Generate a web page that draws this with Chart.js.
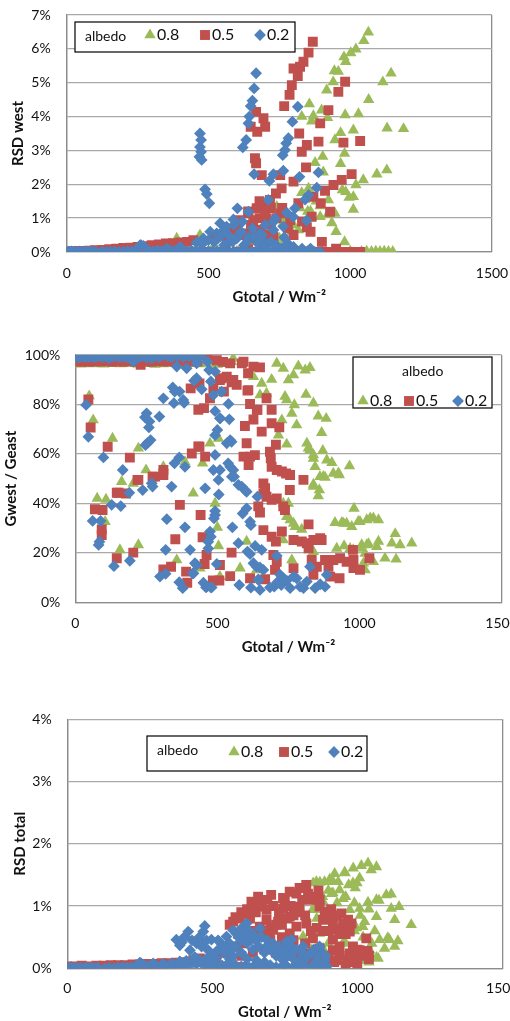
<!DOCTYPE html>
<html><head><meta charset="utf-8">
<script src="https://cdn.jsdelivr.net/npm/chart.js@4/dist/chart.umd.min.js"></script>
<style>
html,body{margin:0;padding:0;background:#fff;width:510px;height:1021px;overflow:hidden;}
.pane{position:absolute;left:0;}
canvas{display:block;}
</style></head><body>
<div class="pane" style="top:0px"><canvas id="c1" width="510" height="310"></canvas></div>
<div class="pane" style="top:330px"><canvas id="c2" width="540" height="330"></canvas></div>
<div class="pane" style="top:700px"><canvas id="c3" width="540" height="321"></canvas></div>
<script>
// ---------- labels ----------
const legendTitle = 'albedo';
const seriesLabels = ['0.8', '0.5', '0.2'];
const xTitle = 'Gtotal / Wm\u207B\u00B2';
const yTitles = ['RSD west', 'Gwest / Geast', 'RSD total'];
const xTickValues = [0, 500, 1000, 1500];

// ---------- panel 1: RSD west (%) vs Gtotal ----------
const west08 = [[0,0],[30,0],[60,0],[100,0],[150,0],[200,0],[250,0],[300,0],[350,0.02],[400,0.03],[450,0.02],[500,0.03],[550,0.02],[600,0.02],[650,0.03],[700,0.02],[750,0.02],[800,0.03],[850,0.02],[900,0.02],[950,0.02],[1000,0.02],[1040,0.01],[1058,0.02],[1075,0.01],[1090,0.02],[1105,0.01],[1120,0.02],[1135,0.01],[1150,0.01],
[388,0.4],[411,0.15],[470,0.5],[520,0.2],[560,0.3],[588,0.55],[640,0.3],[700,0.2],[758,0.2],[750,0.4],[800,0.8],[850,1.2],[880,1.5],[920,1.1],[950,0.6],[980,0.3],[652,0.6],[692,0.45],[763,0.85],
[1064,6.49],[1048,6.24],[1020,5.99],[1002,5.88],[978,5.76],[984,5.62],[944,5.35],[958,5.33],[1144,5.28],[1115,5.02],[940,5.02],[917,4.78],[1065,4.5],[856,4.37],[829,4.0],[870,4.02],[899,4.19],[864,3.86],[920,3.97],[982,4.05],[1029,4.08],[1011,3.6],[1130,3.66],[1188,3.64],[966,3.52],[946,3.31],[980,2.91],[903,2.82],[876,2.64],[966,2.61],[905,2.36],[1129,2.42],[1094,2.3],[1046,2.13],[1020,1.98],[972,1.83],[984,1.78],[996,1.61],[1011,1.63],[829,1.75],[853,1.88],[923,1.54],[894,1.36],[1011,1.26],[946,1.14],[935,0.86],[817,0.65],[794,0.6],[764,0.94],[741,1.34],[894,1.04],[823,1.3],[840,1.55],[860,1.2]];
const west05 = [[0,0],[20,0.02],[40,0.03],[60,0.03],[80,0.04],[100,0.05],[125,0.06],[150,0.08],[175,0.1],[200,0.12],[225,0.13],[250,0.15],[275,0.17],[300,0.2],[325,0.22],[350,0.25],[375,0.26],[400,0.28],[425,0.3],[447,0.35],
[500,0],[550,0],[600,0],[650,0],[700,0],[750,0],[800,0],[850,0],[880,0],[900,0],[920,0],[940,0],[960,0],[980,0],[1000,0],[1020,0],[1035,0],[560,0.05],[640,0.08],
[868,6.21],[853,5.89],[835,5.62],[823,5.47],[800,5.42],[815,5.2],[794,4.93],[786,4.64],[767,4.31],[982,5.03],[958,4.73],[923,4.19],[894,3.8],[668,4.14],[649,3.7],[694,3.95],[700,3.7],[672,3.55],[820,3.5],[888,3.26],[976,3.23],[1035,3.28],[847,3.16],[829,2.96],[664,2.77],[668,2.62],[844,2.5],[688,2.27],[753,2.27],[800,2.08],[1005,2.3],[970,2.13],[941,1.98],[911,1.81],[870,1.63],[896,1.44],[758,1.88],[738,1.73],[717,1.54],[694,1.44],[670,1.29],[641,1.14],[611,0.94],[658,0.94],[705,0.99],[753,1.14],[817,1.44],[864,1.04],[847,0.73],[929,1.19],[788,0.94],[682,0.65],[729,0.45],[588,0.65],[635,0.55],[564,0.35],
[520,0.4],[560,0.6],[600,0.7],[620,0.5],[650,0.8],[680,1.0],[700,1.2],[720,0.8],[740,1.0],[760,1.3],[780,0.7],[800,0.5],[830,0.9],[860,0.6],[900,0.3],[950,0.1],[640,1.2],[680,1.5],[720,1.3],[700,0.5],[660,0.4]];
const west02 = [[0,0],[5,0.01],[10,0],[16,0.02],[22,0],[30,0.01],[38,0],[46,0.02],[55,0],[64,0.01],[73,0],[82,0.02],[92,0],[102,0.01],[125,0.02],[140,0],[155,0.01],[170,0.02],[185,0],[200,0.01],[215,0.03],[230,0.02],[245,0.05],[255,0.15],[262,0.2],[270,0.18],[278,0.1],[290,0.03],[305,0.02],[320,0.05],[335,0.03],[350,0.02],[365,0.04],[380,0.03],[395,0.06],[410,0.03],[425,0.02],[440,0.04],[455,0.02],[470,0.03],[485,0.01],[500,0.02],[515,0.01],[530,0.02],[545,0.01],[560,0.02],[575,0],[590,0.01],[605,0],[620,0.01],[635,0],[650,0.01],[665,0],[680,0.01],[695,0],[710,0.01],[725,0],[740,0.01],[755,0],[770,0.01],[785,0],[800,0.01],[815,0],[830,0.01],[845,0],[860,0.01],[875,0],[893,0],
[668,5.28],[661,4.83],[655,4.47],[649,4.31],[644,4.0],[641,3.8],[633,3.31],[621,3.09],[470,3.5],[474,3.31],[470,3.1],[474,2.96],[468,2.81],[476,2.72],[488,1.85],[494,1.71],[503,1.44],[815,4.29],[796,3.85],[782,3.36],[774,3.21],[770,3.01],[762,2.86],[764,2.4],[729,2.3],[715,2.1],[821,2.22],[888,2.35],[882,1.9],[853,1.68],[841,1.55],[711,1.54],[661,2.3],[641,1.19],[602,1.29],[805,1.29],[776,1.16],[735,0.99],[729,0.65],[764,0.75],[799,1.04],[846,0.93],[767,0.43],[694,0.33],[682,0.55],[641,0.43],[611,0.55],[588,0.96],[564,0.75],[541,0.85],[529,0.55],[506,0.6],[482,0.4],[576,0.33],[458,0.28],[400,0.15],[353,0.1],[259,0.2],
[480,0.25],[500,0.35],[520,0.3],[540,0.45],[555,0.2],[570,0.5],[585,0.3],[600,0.4],[615,0.6],[625,0.2],[640,0.35],[660,0.45],[675,0.25],[690,0.5],[700,0.15],[720,0.3],[740,0.2],[760,0.1],[780,0.25],[800,0.15],[830,0.1],[860,0.1],[590,0.8],[620,0.9],[655,0.7],[700,0.8],[730,0.9],[555,0.65]];

// ---------- panel 2: Gwest / Geast (%) vs Gtotal ----------
const ratio08 = [[5,96.5],[20,96.3],[40,96.6],[60,96.4],[80,96.5],[100,96.3],[130,96.5],[160,96.4],[190,96.6],[220,96.3],[250,96.5],[280,96.2],[310,96.4],[340,96.6],[370,96.3],[400,96.5],[420,99],[440,96.4],[470,96.6],[500,96.2],[530,96.5],[556,98.6],[550,97.3],
[49,83.4],[63,73.7],[131,66.3],[222,62.3],[249,53.5],[310,54.8],[163,48.8],[204,48.1],[77,42],[108,41.6],[105,32.6],[157,21.2],[222,23.2],[415,44.1],[448,56.2],[474,64.3],[504,66.3],[492,40],[500,30.3],[504,22.8],[357,17.1],[386,56.8],[709,96.6],[732,94.6],[785,95.5],[809,93.9],[826,94.9],[768,91.9],[750,89.9],[691,90.1],[656,88.5],[673,84.5],[650,83.8],[627,91.2],[744,81.8],[771,79.8],[812,84],[838,80.5],[855,75.3],[883,74.3],[779,71.7],[867,68.6],[815,64.3],[826,61.6],[871,61.3],[838,58.2],[885,57.5],[903,56.5],[965,55.1],[908,52.1],[929,51.5],[873,50.8],[844,54.8],[838,47.7],[859,45.4],[855,43],[744,63.9],[715,67.6],[727,73.7],[732,40],[744,34.6],[774,30.6],[797,29.5],[914,32.2],[944,31.9],[973,30.6],[1002,32.6],[1026,33.3],[1049,34],[1067,33.3],[981,38],[920,21.8],[946,22.8],[978,21.2],[1002,21.8],[1026,23.2],[1061,22.5],[1067,24.6],[1126,27.7],[1114,23.9],[1143,23.2],[1184,23.9],[1090,17.8],[1129,17.4],[1049,16.4],[1014,15.8],[732,25.2],[762,17.1],[838,20.5],[580,13.8],[603,24.6],[439,13.8],[509,10.4],[638,13.1],[1020,13.1],
[738,83.2],[762,76.4],[820,62.3],[838,59.6],[861,50.8],[879,50.5],[926,52.2],[838,46.8],[750,40],[756,33.3],[938,32.2],[955,31.9],[996,32.6],[1038,34],[967,21.7],[1008,23.2],[1032,23.6],[768,31.9],[832,15.8],[1020,19.8]];
const ratio05 = [[5,97.5],[20,97.3],[35,97.6],[50,97.2],[70,97.5],[90,97.4],[110,97.6],[130,97.3],[150,97.5],[170,97.2],[190,97.6],[210,97.3],[230,96],[250,97.5],[270,97.2],[290,97.6],[310,97.4],[330,97.5],[350,97.2],[370,97.6],[390,97.3],[410,97.5],[430,97.4],[465,99.9],[498,97.9],[520,97.2],[545,96.6],[592,97.3],
[46,82],[54,70.7],[114,62.9],[192,58.5],[219,49.5],[272,50.8],[310,53.5],[310,51.5],[146,44.3],[178,44],[69,37.6],[96,37.3],[93,29.5],[93,27.2],[146,17.8],[204,20.1],[352,25.5],[368,39.4],[410,60.2],[437,62.9],[457,58.9],[441,35.3],[310,13.3],[337,14.4],[390,12.4],[394,7.9],[448,26.3],[462,19.1],[455,15.5],[484,8.8],[507,8.8],[545,10.6],[550,20.1],[406,86.5],[437,88.5],[453,78.5],[474,82.5],[486,86.5],[509,89.9],[523,85.2],[533,91.2],[556,89.9],[568,87.9],[608,92.6],[627,95.3],[650,95],[606,85.6],[615,80.2],[641,77.8],[597,71.3],[627,73.9],[656,69],[673,82.5],[691,77.8],[691,72.4],[718,70.8],[603,64.3],[592,58.9],[610,55.5],[615,58.9],[632,59.5],[685,60.9],[706,63.7],[688,58.2],[691,54.8],[709,53.5],[727,52.9],[742,52.1],[756,51.5],[803,49.5],[755,45.4],[662,48.1],[668,46.1],[662,44],[673,42.7],[691,41.4],[709,42],[732,38.8],[738,37.3],[644,38.8],[650,36.3],[662,29.2],[691,26.5],[706,24.6],[727,28.6],[768,25.2],[797,24.6],[815,23.9],[821,21.8],[821,31.5],[838,25.2],[862,25.9],[867,25.2],[832,17.1],[850,14.4],[879,17.1],[891,14.4],[908,17.1],[932,17.8],[955,16.4],[977,21.2],[979,17.1],[979,13.8],[1002,13.1],[1035,17.8],[930,9.7],[897,10.4],[838,11.1],[768,13.8],[709,16.4],[703,13.1],[668,9.3],[615,9.7],[509,15.1],[697,19.1],
[433,77.8],[515,90.6],[550,89],[586,96.6],[609,85.8],[639,77.8],[433,63],[281,50.8],[222,49.5],[152,44.3]];
const ratio02 = [[3,99.2],[8,99.6],[14,99],[20,99.4],[27,99.7],[34,99.1],[42,99.5],[50,99.2],[58,99.6],[67,99],[76,99.4],[85,99.7],[95,99.1],[105,99.5],[118,98.6],[130,99.3],[142,99.6],[155,99],[168,99.4],[180,99.1],[192,99.7],[204,97.3],[215,99.5],[228,99.2],[240,99.6],[252,98.8],[265,99.3],[269,98.6],[280,99.6],[295,99.1],[310,100],[325,99.4],[340,99],[360,99.5],[380,99.2],[400,99.4],[420,99.1],[440,99.3],
[38,79.8],[46,66.9],[99,58.6],[167,53.5],[160,38.9],[128,39.4],[190,44.3],[61,32.9],[89,32.9],[85,24.5],[82,23.2],[136,14.6],[192,16.8],[237,45.4],[269,48.1],[272,46.8],[251,76.4],[245,74.8],[261,73.1],[259,70.7],[296,75.1],[247,63.6],[255,64.5],[265,65.6],[310,82.5],[343,86.9],[350,85.2],[347,80.5],[367,85.2],[380,81.8],[383,80.7],[322,33.6],[339,46.8],[349,56.2],[366,58.6],[386,54.8],[386,30.3],[404,21.2],[318,21.2],[298,10.4],[318,11.5],[366,8.1],[378,5.7],[413,11.7],[427,15.1],[457,46.1],[445,86.1],[427,90.6],[418,89.6],[357,95.3],[392,94.6],[427,96.6],[465,97.3],[471,93.9],[492,93.3],[477,89.3],[486,83.8],[492,77.3],[509,74.4],[492,67.6],[500,69.7],[539,80.2],[542,74],[545,65.6],[550,64.9],[533,64.3],[492,59.6],[486,53.5],[504,49.5],[509,53.5],[505,43.6],[492,36.9],[492,35.3],[488,33.9],[538,56.2],[545,54.8],[556,53.5],[559,50.8],[574,47.5],[586,46.8],[597,45.4],[603,44.7],[589,35.9],[603,38],[615,32.6],[618,31.2],[641,42.7],[553,30.3],[474,28.6],[477,26.5],[468,24.5],[468,21.8],[498,15.5],[451,7.9],[460,6],[477,6],[574,23.9],[577,7],[606,20.5],[615,19.5],[618,5.9],[627,15.8],[638,14.4],[650,14.1],[662,13.1],[656,21.2],[644,9.3],[685,6],[700,6.3],[709,18.8],[721,11.1],[732,9.7],[744,8.8],[756,5.7],[768,10.4],[779,9.7],[791,6.3],[803,5.7],[815,8.4],[826,14.4],[844,5.7],[862,7.3],[885,11.1],[879,6.3],
[421,15.8],[416,11.7],[463,6.3],[480,6],[633,22.8],[645,9],[650,5],[710,8],[725,7],[510,74.4],[515,85.2],[551,50.8]];

// ---------- panel 3: RSD total (%) vs Gtotal ----------
const total08 = [[1037,1.69],[1014,1.65],[1066,1.63],[986,1.61],[1048,1.58],[958,1.53],[922,1.52],[905,1.43],[917,1.39],[934,1.39],[871,1.38],[970,1.34],[999,1.37],[848,1.37],[993,1.29],[916,1.21],[1100,1.18],[1117,1.19],[951,1.12],[1075,1.09],[882,1.07],[1037,1.06],[1117,0.96],[1144,0.99],[974,0.94],[1008,0.96],[848,0.96],[899,0.91],[1066,0.83],[1129,0.78],[1186,0.7],[1025,0.75],[1019,0.67],[1077,0.46],[1111,0.46],[1140,0.44],[1129,0.35],[1094,0.32],[1043,0.29],[1072,0.16],[1008,0.13],[1031,0.13],[951,0.41],[870,0.56],[882,0.32],[813,0.51],[956,1.54],[887,1.39],[859,1.39],[911,1.2],[876,1.07],[853,0.94],[939,1.26],[985,1.37],[1008,1.45],[1066,1.1],[997,0.65],[1105,0.49],[1066,0.17],[1019,0.13],
[860,0.8],[880,1.15],[900,1.25],[930,1.05],[960,1.15],[990,1.05],[1010,0.85],[1040,0.95],[1060,0.6],[1050,0.4],[1020,0.5],[990,0.6],[960,0.4],[930,0.3],[900,0.4],[870,0.2],[840,0.3],[810,0.2],[760,0.02],[720,0.01],[800,0.02],[840,0.02],[1000,0.15],[1040,0.1]];
const total05 = [[0,0.03],[25,0.03],[50,0.04],[75,0.03],[100,0.04],[125,0.04],[150,0.05],[175,0.05],[200,0.05],[225,0.06],[250,0.06],[275,0.07],[300,0.07],[325,0.08],[350,0.08],[375,0.09],[400,0.1],[434,0.13],[457,0.16],[514,0.21],[480,0.05],[520,0.05],[560,0.02],[600,0.02],[640,0.01],[680,0.01],
[824,1.34],[801,1.29],[767,1.23],[866,1.25],[842,1.1],[744,1.13],[703,1.18],[658,1.15],[635,1.07],[664,0.99],[687,0.94],[744,0.96],[801,0.99],[767,0.83],[617,0.88],[595,0.8],[572,0.75],[560,0.7],[727,0.75],[824,0.72],[882,0.78],[916,0.83],[945,0.88],[968,0.78],[980,0.72],[974,0.59],[928,0.62],[847,0.48],[1031,0.48],[1008,0.29],[974,0.24],[968,0.13],[916,0.29],[893,0.16],[928,0.13],[767,0.56],[698,0.51],[643,0.48],[744,0.35],[870,0.32],[836,0.24],[664,0.67],[710,0.62],[790,0.67],[687,0.78],[870,0.99],[888,0.91],[916,0.72],[951,0.72],[916,0.46],[939,0.35],[985,0.35],
[590,0.55],[610,0.62],[630,0.8],[650,0.9],[670,1.05],[690,1.1],[710,1.0],[730,0.9],[750,1.1],[770,1.0],[790,1.2],[810,1.1],[830,1.2],[850,1.15],[870,1.1],[890,0.9],[910,0.95],[930,0.85],[950,0.65],[960,0.55],[940,0.55],[900,0.6],[880,0.6],[860,0.65],[840,0.6],[820,0.85],[800,0.9],[780,0.85],[760,0.8],[740,0.7],[720,0.7],[700,0.65],[680,0.6],[660,0.55],[640,0.6],[620,0.45],[600,0.4],[580,0.35],[560,0.3],[540,0.25],[700,0.45],[740,0.5],[780,0.45],[820,0.4],[860,0.3],[900,0.2],[940,0.2],[980,0.1],[990,0.2],[1010,0.2],[1040,0.2],[1000,0.05],[960,0.05],[920,0.1],[880,0.1],[840,0.1],[800,0.15],[760,0.2],[720,0.25],[680,0.3],[640,0.25],[600,0.2],[1000,0.3],[1020,0.25],[1035,0.28],[1040,0.15],
[580,0.82],[600,0.9],[620,0.95],[645,1.0]];
const total02 = [[0,0],[8,0.01],[16,0],[25,0.01],[35,0],[45,0.01],[55,0],[65,0.01],[75,0],[85,0.01],[95,0],[105,0.01],[130,0],[145,0.01],[160,0],[175,0.01],[190,0.02],[205,0.01],[220,0.02],[235,0.03],[245,0.06],[255,0.08],[265,0.05],[280,0.03],[295,0.04],[310,0.03],[325,0.05],[340,0.04],[355,0.05],[370,0.06],[385,0.05],[400,0.07],[415,0.06],[430,0.08],[445,0.07],[460,0.09],[475,0.06],[490,0.08],[505,0.05],[520,0.07],[535,0.04],[550,0.06],[565,0.03],[580,0.05],[600,0.03],[620,0.04],[640,0.02],[660,0.03],[680,0.02],[700,0.03],[720,0.02],[740,0.03],[760,0.02],[780,0.03],[800,0.02],[820,0.03],[840,0.02],[860,0.03],[880,0.02],[895,0.03],
[474,0.68],[469,0.59],[417,0.59],[405,0.51],[376,0.46],[388,0.37],[446,0.4],[423,0.29],[497,0.46],[486,0.29],[463,0.35],[549,0.51],[560,0.4],[572,0.61],[583,0.56],[600,0.64],[618,0.72],[623,0.62],[641,0.54],[664,0.64],[618,0.46],[687,0.35],[721,0.29],[756,0.43],[773,0.46],[778,0.29],[813,0.35],[842,0.24],[882,0.24],[888,0.13],[859,0.11],[801,0.13],[744,0.13],[652,0.13],[572,0.19],[514,0.16],[457,0.13],[388,0.11],[296,0.08],[250,0.09],
[520,0.3],[540,0.25],[560,0.3],[580,0.35],[600,0.45],[620,0.4],[640,0.3],[660,0.35],[680,0.25],[700,0.3],[720,0.2],[740,0.25],[760,0.2],[780,0.15],[820,0.15],[860,0.2],[500,0.2],[480,0.15],[440,0.18],[410,0.12],[360,0.08],[330,0.07],[600,0.25],[560,0.15],[620,0.15],[680,0.1],[700,0.05],[750,0.05],[800,0.05],[850,0.05],
[530,0.4],[545,0.35],[590,0.5],[610,0.55],[630,0.5],[650,0.45],[670,0.5],[690,0.45],[710,0.4],[730,0.35],[750,0.3],[770,0.35],[790,0.3],[810,0.25],[830,0.2],[850,0.3],[870,0.35],[890,0.2],[520,0.45],[480,0.45],[455,0.5],[430,0.45],[395,0.42]];

// ---------- styling ----------
const GREEN = '#9bbb59', RED = '#c0504d', BLUE = '#4f81bd';
const GRID = '#a9a9a9', AXIS = '#8c8c8c';
const FONT = 'Lato, "Open Sans", sans-serif';
const STYLES = [
  {style: 'triangle', r: 6.6, color: GREEN},
  {style: 'rect', r: 7, color: RED},
  {style: 'rectRot', r: 5.9, color: BLUE}
];

function drawMarker(ctx, s, x, y) {
  ctx.fillStyle = s.color;
  ctx.beginPath();
  const r = s.r;
  if (s.style === 'triangle') {
    ctx.moveTo(x, y - r); ctx.lineTo(x + r * 0.866, y + r * 0.5); ctx.lineTo(x - r * 0.866, y + r * 0.5);
  } else if (s.style === 'rect') {
    const h = r * Math.SQRT1_2; ctx.rect(x - h, y - h, 2 * h, 2 * h);
  } else {
    ctx.moveTo(x, y - r); ctx.lineTo(x + r, y); ctx.lineTo(x, y + r); ctx.lineTo(x - r, y);
  }
  ctx.closePath(); ctx.fill();
}

const boxLegend = {
  id: 'boxLegend',
  afterDraw(chart, args, o) {
    if (!o || !o.box) return;
    const ctx = chart.ctx;
    const [bx, by, bw, bh] = o.box;
    ctx.save();
    ctx.fillStyle = '#fff'; ctx.fillRect(bx, by, bw, bh);
    ctx.strokeStyle = '#000'; ctx.lineWidth = 1.2; ctx.strokeRect(bx, by, bw, bh);
    ctx.fillStyle = '#111'; ctx.textBaseline = 'middle';
    ctx.font = '14px ' + FONT; ctx.textAlign = o.titleAlign;
    ctx.fillText(legendTitle, o.titleX, o.titleY);
    ctx.font = '16px ' + FONT; ctx.textAlign = 'left';
    o.items.forEach((ix, i) => {
      drawMarker(ctx, STYLES[i], ix, o.itemY);
      ctx.fillStyle = '#111';
      ctx.fillText(seriesLabels[i], ix + 7, o.itemY);
    });
    ctx.restore();
  }
};

function toPts(arr) { return arr.map(p => ({x: p[0], y: p[1]})); }

function makeChart(id, sets, o) {
  const datasets = sets.map((s, i) => ({
    label: seriesLabels[i], data: toPts(s),
    pointStyle: STYLES[i].style, pointRadius: STYLES[i].r,
    backgroundColor: STYLES[i].color, borderColor: STYLES[i].color, borderWidth: 0,
    order: 2 - i
  }));
  return new Chart(document.getElementById(id), {
    type: 'scatter',
    data: {datasets},
    options: {
      responsive: false, animation: false, events: [],
      layout: {padding: {top: o.top, right: o.right, left: 0, bottom: 0}},
      plugins: {legend: {display: false}, tooltip: {enabled: false}, boxLegend: o.legend},
      scales: {
        x: {
          type: 'linear', min: 0, max: 1500,
          afterBuildTicks(s) { s.ticks = xTickValues.map(v => ({value: v})); },
          ticks: {padding: o.xtp, color: '#111', font: {family: FONT, size: 14}, maxRotation: 0, autoSkip: false, callback: v => String(v)},
          grid: {drawTicks: false, lineWidth: 1.3, color: c => (c.tick && (c.tick.value === 0 || c.tick.value === 1500)) ? AXIS : 'rgba(0,0,0,0)'},
          border: {display: true, color: AXIS, width: 1.3},
          title: {display: true, text: xTitle, color: '#111', font: {family: FONT, size: 15, weight: 'bold'}, padding: {top: 0, bottom: o.xtitlePad}},
          afterFit(s) { s.height = o.xh; s.paddingLeft = 0; s.paddingRight = 0; }
        },
        y: {
          min: 0, max: o.ymax,
          ticks: {stepSize: o.ystep, padding: o.ytp, color: '#111', font: {family: FONT, size: 14}, callback: v => v + '%'},
          grid: {drawTicks: false, color: GRID, lineWidth: 1.3},
          border: {display: true, color: AXIS, width: 1.3},
          title: {display: true, text: o.ytitle, color: '#111', font: {family: FONT, size: 15, weight: 'bold'}, padding: {top: o.ytitlePad, bottom: 0}},
          afterFit(s) { s.width = o.yw; s.paddingTop = 0; s.paddingBottom = 0; }
        }
      }
    },
    plugins: [boxLegend]
  });
}

makeChart('c1', [west08, west05, west02], {
  top: 15, right: 18, yw: 66.7, xh: 58, xtp: 13, xtitlePad: 4, ytp: 16, ytitlePad: 9,
  ymax: 7, ystep: 1, ytitle: yTitles[0],
  legend: {box: [75, 22, 220, 30], titleAlign: 'left', titleX: 85, titleY: 36, itemY: 35, items: [150, 205, 260]}
});
makeChart('c2', [ratio08, ratio05, ratio02], {
  top: 25, right: 38.5, yw: 75.3, xh: 57.7, xtp: 12.3, xtitlePad: 4, ytp: 15, ytitlePad: 2.5,
  ymax: 100, ystep: 20, ytitle: yTitles[1],
  legend: {box: [353, 27, 139, 51], titleAlign: 'center', titleX: 422.7, titleY: 41.7, itemY: 71, items: [363, 409, 458]}
});
makeChart('c3', [total08, total05, total02], {
  top: 19.3, right: 37.7, yw: 67.3, xh: 52.7, xtp: 11.6, xtitlePad: 0, ytp: 15.6, ytitlePad: 11,
  ymax: 4, ystep: 1, ytitle: yTitles[2],
  legend: {box: [147, 36, 220, 35], titleAlign: 'left', titleX: 157, titleY: 50.7, itemY: 52, items: [234, 284, 334]}
});
</script>
</body></html>
